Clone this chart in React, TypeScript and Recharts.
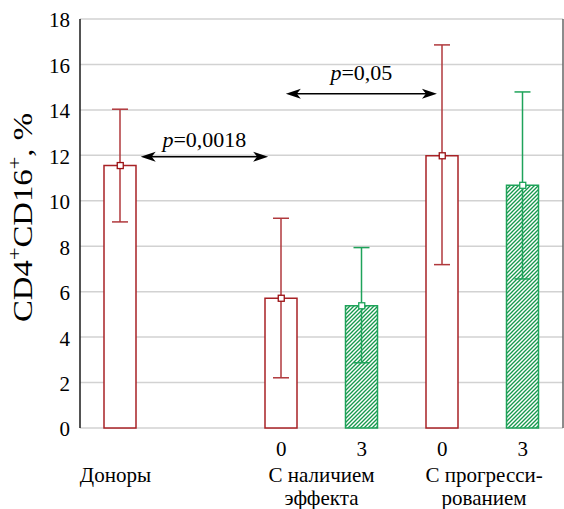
import React from "react";
import {
  ComposedChart,
  Bar,
  Line,
  XAxis,
  YAxis,
  CartesianGrid,
  ErrorBar,
  ReferenceLine,
} from "recharts";

// ---- data ----
const slotLabels = ["", "", "0", "3", "0", "3"];
const means: (number | null)[] = [11.55, null, 5.71, 5.38, 11.98, 10.68];
const lowerBounds: (number | null)[] = [9.07, null, 2.21, 2.87, 7.19, 6.56];
const upperBounds: (number | null)[] = [14.03, null, 9.23, 7.94, 16.86, 14.79];
const groupLabels = [["Доноры"], ["С наличием", "эффекта"], ["С прогресси-", "рованием"]];
const groupTickValues = [0.44, 3, 5.02];
const boundaryTicks = [1, 3, 5];
const axisEnds = [0, 6];
const yTicks = [0, 2, 4, 6, 8, 10, 12, 14, 16, 18];
const pValues = ["0,0018", "0,05"];
const arrowFrom = [0.754, 2.557];
const arrowTo = [2.337, 4.434];
const arrowLevel = [11.94, 14.71];

// ---- styles ----
const SERIF = "Liberation Serif";
const RED = "#a82226";
const RED_ERR = "#b0383c";
const GREEN = "#1ea35a";
const GREEN_HATCH = "#16984d";
const P_LABEL_LIFT = [10, 13.5];

const data = slotLabels.map((label, i) => {
  const isGreen = label === "3";
  const m = means[i];
  const err =
    m == null ? null : [m - (lowerBounds[i] as number), (upperBounds[i] as number) - m];
  return {
    slot: `s${i}`,
    slotIndex: i,
    mean: m,
    red: !isGreen ? m : null,
    green: isGreen ? m : null,
    redErr: !isGreen ? err : null,
    greenErr: isGreen ? err : null,
  };
});

const EmptyTick = () => <g />;

const YTick = (props: any) => {
  const { x, y, payload } = props;
  return (
    <text x={x} y={y} dy="0.4em" textAnchor="end" fontSize={21} fontFamily={SERIF} fill="#000">
      {payload.value}
    </text>
  );
};

const CatTick = (props: any) => {
  const { x, y, payload } = props;
  const idx = parseInt(String(payload.value).slice(1), 10);
  const txt = slotLabels[idx] || "";
  return (
    <text x={x} y={y} dy="0.71em" textAnchor="middle" fontSize={21} fontFamily={SERIF} fill="#000">
      {txt}
    </text>
  );
};

const GroupTick = (props: any) => {
  const { x, y, payload } = props;
  const idx = groupTickValues.indexOf(payload.value);
  const lines = idx >= 0 ? groupLabels[idx] : [];
  return (
    <g>
      {lines.map((ln, k) => (
        <text
          key={k}
          x={x}
          y={y + 24 + k * 23}
          textAnchor="middle"
          fontSize={21}
          fontFamily={SERIF}
          fill="#000"
        >
          {ln}
        </text>
      ))}
    </g>
  );
};

const AxisTitle = (props: any) => {
  const vb = props.viewBox || { x: 0, y: 19, width: 80, height: 409 };
  const cx = vb.x + 32;
  const cy = vb.y + vb.height / 2 - 6;
  return (
    <text
      x={cx}
      y={cy}
      transform={`rotate(-90, ${cx}, ${cy})`}
      textAnchor="middle"
      fontSize={28}
      fontFamily={SERIF}
      fill="#000"
      textLength={209}
      lengthAdjust="spacingAndGlyphs"
    >
      CD4
      <tspan fontSize={19} dy={-11}>+</tspan>
      <tspan dy={11}>CD16</tspan>
      <tspan fontSize={19} dy={-11}>+</tspan>
      <tspan dy={11}>, %</tspan>
    </text>
  );
};

const MeanMarker = (props: any) => {
  const { cx, cy, index, value } = props;
  if (value == null || cy == null || cx == null) return <g key={`m${index}`} />;
  const color = slotLabels[index] === "3" ? GREEN : "#9a0f12";
  return (
    <rect
      key={`m${index}`}
      x={cx - 3}
      y={cy - 3}
      width={6}
      height={6}
      fill="#fff"
      stroke={color}
      strokeWidth={1.3}
    />
  );
};

const makeArrow = (pv: string, lift: number) => (p: any) => {
  const { x1, y1, x2 } = p;
  const y = y1;
  const head = 15;
  const hw = 5;
  const mid = (x1 + x2) / 2;
  return (
    <g>
      <line x1={x1 + 10} y1={y} x2={x2 - 10} y2={y} stroke="#000" strokeWidth={1.6} />
      <polygon
        points={`${x1},${y} ${x1 + head},${y - hw} ${x1 + head - 4},${y} ${x1 + head},${y + hw}`}
        fill="#000"
      />
      <polygon
        points={`${x2},${y} ${x2 - head},${y - hw} ${x2 - head + 4},${y} ${x2 - head},${y + hw}`}
        fill="#000"
      />
      <text x={mid} y={y - lift} textAnchor="middle" fontSize={22} fontFamily={SERIF} fill="#000">
        <tspan fontStyle="italic">p</tspan>={pv}
      </text>
    </g>
  );
};

export default function App() {
  return (
    <div style={{ position: "absolute", left: 0, top: 0 }}>
      <ComposedChart
        width={564}
        height={509}
        data={data}
        margin={{ top: 19, right: 0, bottom: 0, left: 0 }}
      >
        <defs>
          <pattern id="hatch" patternUnits="userSpaceOnUse" width="4" height="4">
            <rect width="4" height="4" fill="#fff" />
            <path
              d="M-1,1 l2,-2 M0,4 l4,-4 M3,5 l2,-2"
              stroke={GREEN_HATCH}
              strokeWidth={1.35}
            />
          </pattern>
        </defs>
        <CartesianGrid
          xAxisId="cat"
          yAxisId="l"
          vertical={false}
          stroke="#d2d2d2"
          strokeWidth={1.5}
        />
        <XAxis
          xAxisId="bt"
          dataKey="slotIndex"
          type="number"
          domain={axisEnds}
          allowDataOverflow
          ticks={boundaryTicks}
          orientation="bottom"
          height={0}
          tickSize={-4}
          interval={0}
          tick={<EmptyTick />}
          axisLine={{ stroke: "#1a1a1a", strokeWidth: 1.5 }}
          tickLine={{ stroke: "#333" }}
        />
        <XAxis
          xAxisId="cat"
          dataKey="slot"
          height={30}
          axisLine={false}
          tickLine={false}
          tickSize={6}
          tickMargin={7}
          interval={0}
          tick={<CatTick />}
        />
        <XAxis
          xAxisId="grp"
          dataKey="slotIndex"
          type="number"
          domain={axisEnds}
          allowDataOverflow
          ticks={groupTickValues}
          height={51}
          axisLine={false}
          tickLine={false}
          tickSize={0}
          tickMargin={0}
          interval={0}
          tick={<GroupTick />}
        />
        <XAxis
          xAxisId="top"
          dataKey="slotIndex"
          orientation="top"
          type="number"
          domain={axisEnds}
          allowDataOverflow
          ticks={boundaryTicks}
          height={0}
          tickSize={-4}
          interval={0}
          tick={<EmptyTick />}
          axisLine={{ stroke: "#666", strokeWidth: 1.5 }}
          tickLine={{ stroke: "#333" }}
        />
        <YAxis
          yAxisId="l"
          domain={[0, 18]}
          ticks={yTicks}
          width={80}
          interval={0}
          tickLine={false}
          tickSize={6}
          tickMargin={4}
          axisLine={{ stroke: "#1a1a1a", strokeWidth: 1.5 }}
          tick={<YTick />}
          label={<AxisTitle />}
        />
        <YAxis
          yAxisId="r"
          orientation="right"
          domain={[0, 18]}
          ticks={yTicks}
          width={1}
          interval={0}
          tickSize={-4}
          tick={<EmptyTick />}
          axisLine={{ stroke: "#666", strokeWidth: 1.5 }}
          tickLine={{ stroke: "#333" }}
        />
        <Bar
          xAxisId="cat"
          yAxisId="l"
          dataKey="red"
          stackId="s"
          barSize={32}
          fill="#fff"
          stroke={RED}
          strokeWidth={1.5}
          isAnimationActive={false}
        >
          <ErrorBar
            dataKey="redErr"
            direction="y"
            width={8}
            stroke={RED_ERR}
            strokeWidth={1.5}
            isAnimationActive={false}
          />
        </Bar>
        <Bar
          xAxisId="cat"
          yAxisId="l"
          dataKey="green"
          stackId="s"
          barSize={32}
          fill="url(#hatch)"
          stroke={GREEN}
          strokeWidth={1.5}
          isAnimationActive={false}
        >
          <ErrorBar
            dataKey="greenErr"
            direction="y"
            width={8}
            stroke={GREEN}
            strokeWidth={1.5}
            isAnimationActive={false}
          />
        </Bar>
        <Line
          xAxisId="cat"
          yAxisId="l"
          dataKey="mean"
          stroke="none"
          dot={MeanMarker}
          activeDot={false}
          isAnimationActive={false}
          legendType="none"
        />
        {pValues.map((pv, i) => (
          <ReferenceLine
            key={`arrow${i}`}
            xAxisId="grp"
            yAxisId="l"
            segment={[
              { x: arrowFrom[i], y: arrowLevel[i] },
              { x: arrowTo[i], y: arrowLevel[i] },
            ]}
            ifOverflow="visible"
            shape={makeArrow(pv, P_LABEL_LIFT[i])}
          />
        ))}
      </ComposedChart>
    </div>
  );
}
